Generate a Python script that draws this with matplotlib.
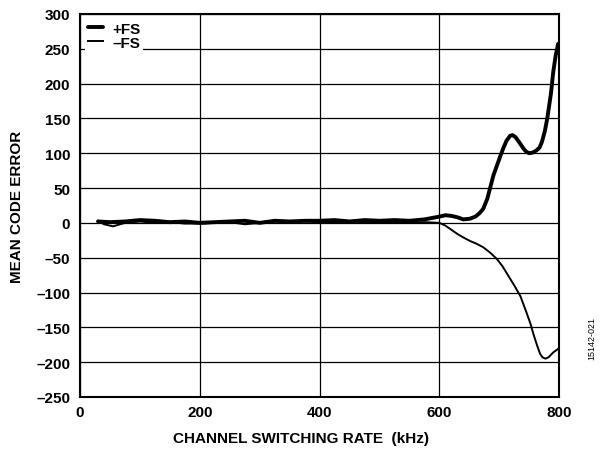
import matplotlib
matplotlib.use("Agg")
import matplotlib.pyplot as plt
import numpy as np

plt.rcParams['font.family'] = ['Liberation Sans', 'DejaVu Sans']

# kHz vs mean code error
pos_rate = [30, 50, 75, 100, 125, 150, 175, 200, 225, 250, 275, 300, 325, 350, 375, 400,
            425, 450, 475, 500, 525, 550, 575, 600, 610, 620, 630, 640, 651, 660, 667,
            673, 680, 690, 700, 706, 712, 718, 722, 727, 733, 740, 745, 750, 756, 762,
            767, 771, 776, 780, 786, 790, 794, 798]
pos_err = [2, 1, 2, 4, 3, 1, 2, 0, 1, 2, 3, 0, 3, 2, 3, 3,
           4, 2, 4, 3, 4, 3, 5, 9, 11, 10, 8, 5, 6, 9, 14,
           20, 35, 68, 92, 106, 118, 125, 126, 123, 116, 107, 102, 100, 101, 104,
           108, 116, 132, 150, 185, 217, 240, 257]

neg_rate = [30, 40, 55, 75, 100, 125, 150, 175, 200, 225, 250, 275, 300, 325, 350, 375, 400,
            425, 450, 475, 500, 525, 550, 575, 600, 610, 620, 630, 640, 651, 662, 673,
            685, 696, 705, 715, 725, 735, 745, 752, 757, 763, 768, 772, 777, 782, 790, 798]
neg_err = [3, -2, -5, 0, 2, 0, 1, -1, -1, 0, 1, -2, 0, 2, 1, 2, 1,
           0, 2, 1, 0, 1, 0, 1, 0, -4, -10, -16, -21, -26, -30, -35,
           -43, -52, -62, -76, -90, -105, -128, -145, -160, -176, -188, -193, -195, -193, -186, -181]

yticks = list(range(-250, 301, 50))
xticks = [0, 200, 400, 600, 800]


def fmt(v):
    return str(v).replace('-', '\u2013')


fig = plt.figure(figsize=(6.02, 4.52), dpi=100)
ax = fig.add_axes([0.133, 0.1195, 0.796, 0.8475])

ax.plot(pos_rate, pos_err, color='black', lw=2.8, label='+FS',
        solid_capstyle='round', solid_joinstyle='round')
ax.plot(neg_rate, neg_err, color='black', lw=1.4, label='\u2013FS', solid_joinstyle='round')

ax.set_xlim(0, 800)
ax.set_ylim(-250, 300)
ax.set_xticks(xticks)
ax.set_xticklabels([fmt(v) for v in xticks], fontweight='bold', fontsize=11)
ax.set_yticks(yticks)
ax.set_yticklabels([fmt(v) for v in yticks], fontweight='bold', fontsize=11)
ax.tick_params(axis='y', length=0, pad=7)
ax.tick_params(axis='x', length=0, pad=6)
ax.grid(True, color='black', lw=0.9)
for s in ax.spines.values():
    s.set_linewidth(1.5)

ax.set_xlabel('CHANNEL SWITCHING RATE  (kHz)', fontweight='bold', fontsize=11)
ax.xaxis.set_label_coords(0.462, -0.09)
ax.set_ylabel('MEAN CODE ERROR', fontweight='bold', fontsize=11, labelpad=9)

leg = ax.legend(loc='upper left', frameon=True, fancybox=False, edgecolor='none',
                framealpha=1, handlelength=1.0, handletextpad=0.6, borderpad=0.2,
                labelspacing=0.0, borderaxespad=0.3,
                prop={'weight': 'bold', 'size': 11})
leg.get_frame().set_linewidth(0)

fig.text(0.983, 0.25, '15142-021', rotation=90, fontsize=6.5, ha='center', va='center')

fig.savefig('out.png', dpi=100)
